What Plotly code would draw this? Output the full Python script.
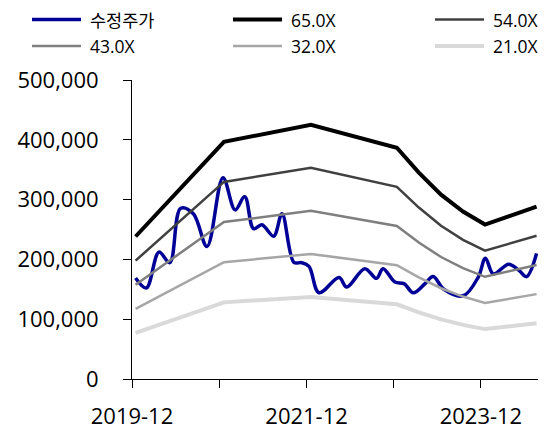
import plotly.graph_objects as go

# Adjusted share price (수정주가)
price_dates = [
    "2019-12-16", "2020-01-30", "2020-03-23", "2020-05-07", "2020-06-22",
    "2020-08-14", "2020-10-10", "2020-12-16", "2021-02-05", "2021-03-17",
    "2021-04-23", "2021-05-28", "2021-07-16", "2021-08-20", "2021-10-09",
    "2021-11-10", "2021-12-11", "2022-01-22", "2022-04-16", "2022-05-18",
    "2022-08-02", "2022-09-20", "2022-10-17", "2022-12-06", "2023-01-13",
    "2023-02-21", "2023-04-11", "2023-05-15", "2023-06-29", "2023-09-18",
    "2023-11-20", "2023-12-20", "2024-01-22", "2024-03-26", "2024-05-08",
    "2024-06-09", "2024-07-21",
]
price_vals = [
    168800, 152200, 212200, 194500, 285500,
    276200, 221700, 336700, 282800, 305000,
    251200, 257800, 238800, 276200, 195000,
    194500, 188300, 144200, 169700, 153800,
    184500, 168300, 184500, 162200, 159500,
    144200, 159500, 171300, 150000, 139200,
    170500, 202000, 175800, 192000, 181700,
    171200, 210000,
]

# EPS path used for the PER bands
band_dates = [
    "2019-12-16", "2020-12-20", "2021-12-19", "2022-12-14", "2023-03-16",
    "2023-06-17", "2023-09-17", "2023-12-18", "2024-07-21",
]
eps_vals = [3666, 6103, 6538, 5949, 5308, 4743, 4308, 3974, 4436]

multiples = [65.0, 54.0, 43.0, 32.0, 21.0]
band_colors = ["#000000", "#404040", "#7f7f7f", "#a6a6a6", "#d9d9d9"]
band_widths = [4, 2.5, 2.5, 2.5, 4]

price_name = "수정주가"
price_color = "#000096"

y_ticks = [0, 100000, 200000, 300000, 400000, 500000]
x_ticks = ["2019-12-01", "2020-12-01", "2021-12-01", "2022-12-01", "2023-12-01"]
x_ticktext = ["2019-12", "", "2021-12", "", "2023-12"]

FONT = "Open Sans, Noto Sans CJK KR, sans-serif"

W, H = 549, 434
M_L, M_R, M_T, M_B = 132, 11, 80, 55
PLOT_W = W - M_L - M_R
PLOT_H = H - M_T - M_B


def px_x(px):
    return (px - M_L) / PLOT_W


def px_y(py):
    return (H - M_B - py) / PLOT_H


fig = go.Figure()

fig.add_trace(go.Scatter(
    x=price_dates, y=price_vals, name=price_name, mode="lines",
    line=dict(color=price_color, width=3.5, shape="spline", smoothing=1.0),
    showlegend=False,
))

band_names = [f"{m:.1f}X" for m in multiples]
for m, name, c, w in zip(multiples, band_names, band_colors, band_widths):
    fig.add_trace(go.Scatter(
        x=band_dates, y=[e * m for e in eps_vals], name=name,
        mode="lines", line=dict(color=c, width=w), showlegend=False,
    ))

# Legend: three columns, two rows above the plot
legend_names = [price_name] + band_names
legend_colors = [price_color] + band_colors
legend_widths = [3.5] + band_widths
col_x = [32, 233, 435]
row_y = [19.5, 46]
for i, (name, c, w) in enumerate(zip(legend_names, legend_colors, legend_widths)):
    x0 = col_x[i % 3]
    y0 = row_y[i // 3]
    fig.add_shape(
        type="line", xref="paper", yref="paper",
        x0=px_x(x0), x1=px_x(x0 + 49), y0=px_y(y0), y1=px_y(y0),
        line=dict(color=c, width=w),
    )
    fig.add_annotation(
        xref="paper", yref="paper", x=px_x(x0 + 56), y=px_y(y0),
        xanchor="left", yanchor="middle", showarrow=False, text=name,
        font=dict(size=17.5, family=FONT, color="#000000"),
    )

fig.update_layout(
    width=W, height=H,
    margin=dict(l=M_L, r=M_R, t=M_T, b=M_B, autoexpand=False),
    paper_bgcolor="white", plot_bgcolor="white",
    font=dict(family=FONT, color="#000000"),
    showlegend=False,
    xaxis=dict(
        type="date", range=["2019-12-01", "2024-07-27"],
        tickvals=x_ticks, ticktext=x_ticktext,
        ticks="outside", ticklen=8, tickcolor="#000000", tickwidth=1,
        showline=True, linecolor="#000000", linewidth=1,
        showgrid=False, zeroline=False,
        tickfont=dict(size=22, family=FONT, color="#000000"),
        ticklabelstandoff=10,
    ),
    yaxis=dict(
        range=[0, 500000], tickvals=y_ticks, tickformat=",d",
        ticks="outside", ticklen=8, tickcolor="#000000", tickwidth=1,
        showline=True, linecolor="#000000", linewidth=1,
        showgrid=False, zeroline=False,
        tickfont=dict(size=22, family=FONT, color="#000000"),
        ticklabelstandoff=20,
    ),
)

fig.write_html("out.html")
